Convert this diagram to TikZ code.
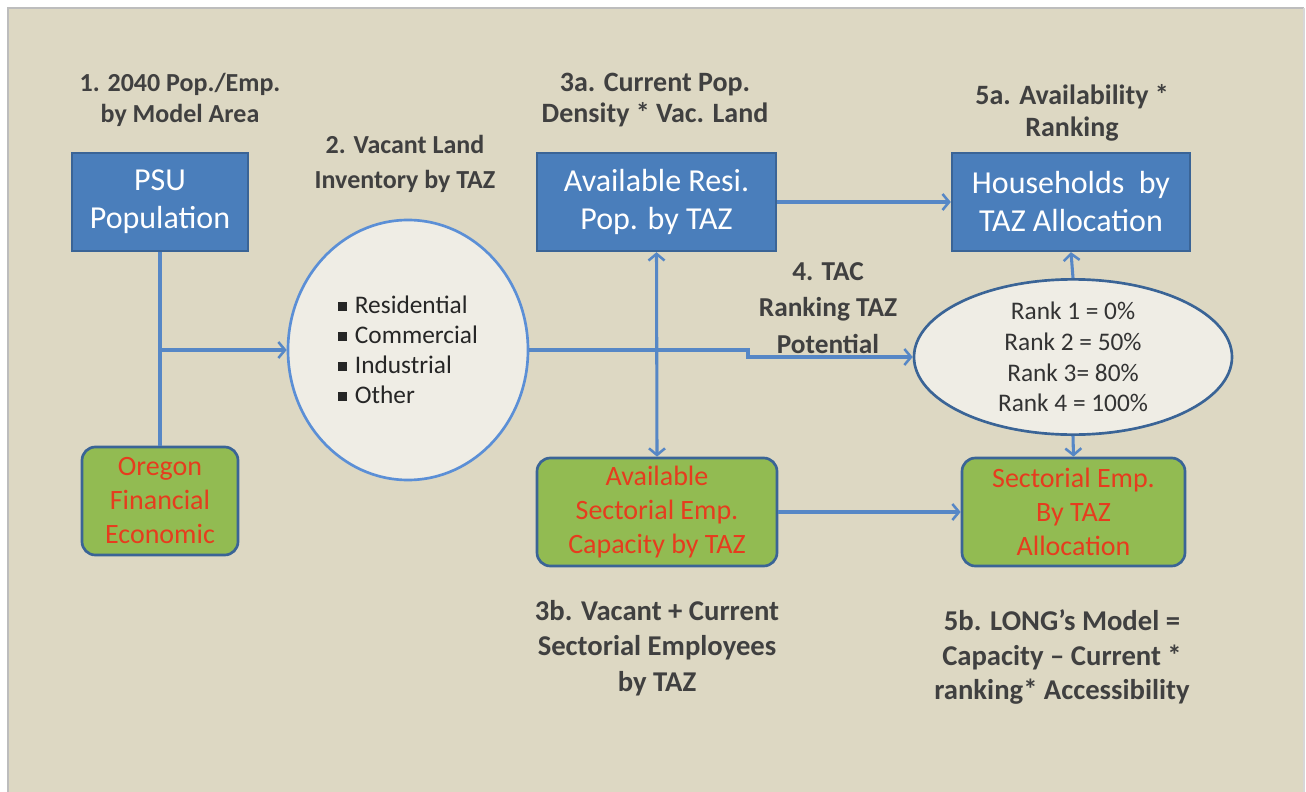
\documentclass[tikz,border=0pt]{standalone}
\usepackage{fontspec}
\setmainfont{Carlito}
\usetikzlibrary{shapes.geometric,arrows.meta}
\definecolor{bg}{HTML}{DDD8C3}
\definecolor{frame}{HTML}{BDBDBD}
\definecolor{boxblue}{HTML}{4A7EBB}
\definecolor{boxedge}{HTML}{3A6496}
\definecolor{boxgreen}{HTML}{92BB52}
\definecolor{redtxt}{HTML}{E63C1E}
\definecolor{conn}{HTML}{5687C6}
\definecolor{lbl}{HTML}{404040}
\definecolor{ellfill}{HTML}{EFEDE5}
\definecolor{elledge}{HTML}{5B8FD6}
\tikzset{
  bluebox/.style={draw=boxedge,line width=1.8pt,fill=boxblue,text=white,align=center,
    font=\fontsize{24pt}{28.5pt}\selectfont,inner sep=0pt},
  greenbox/.style={draw=boxedge,line width=2pt,fill=boxgreen,text=redtxt,align=center,
    rounded corners=10pt,font=\fontsize{21pt}{25.5pt}\selectfont,inner sep=0pt},
  steplabel/.style={text=lbl,align=center},
  conline/.style={draw=conn,line width=2.3pt},
  arr/.style={conline,-{Straight Barb[length=5pt,width=12pt,line width=1.9pt]}},
  darr/.style={conline,{Straight Barb[length=5pt,width=12pt,line width=1.9pt]}-{Straight Barb[length=5pt,width=12pt,line width=1.9pt]}},
}
\newcommand{\bul}{\raisebox{0.25ex}{\rule{0.36em}{0.36em}}\hspace{0.3em}}
\newcommand{\lf}[2]{\bfseries\fontsize{#1}{#2}\selectfont}
\begin{document}
\begin{tikzpicture}[x=0.75pt,y=-0.75pt]
\useasboundingbox (0,0) rectangle (1306,792);
\fill[white] (0,0) rectangle (1306,792);
\fill[bg] (9,9) rectangle (1303,792);
\draw[frame,line width=2pt] (8,792) -- (8,8) -- (1304,8);
\draw[frame!60,line width=1pt] (1304,8) -- (1304,792);

% step labels
\node[steplabel,font=\lf{19.5pt}{23pt}] (l1) at (180,100) {1. 2040 Pop./Emp.\\by Model Area};
\node[steplabel,font=\lf{19.5pt}{26pt}] (l2) at (405,164) {2. Vacant Land\\Inventory by TAZ};
\node[steplabel,font=\lf{21pt}{23pt}] (l3a) at (655,100) {3a. Current Pop.\\Density * Vac. Land};
\node[steplabel,font=\lf{21pt}{24.5pt}] (l5a) at (1072,113) {5a. Availability *\\Ranking};
\node[steplabel,font=\lf{20.5pt}{27.5pt}] (l4) at (828,308) {4. TAC\\Ranking TAZ\\Potential};
\node[steplabel,font=\lf{21.5pt}{26.5pt}] (l3b) at (657,648) {3b. Vacant + Current\\Sectorial Employees\\by TAZ};
\node[steplabel,font=\lf{21.5pt}{26pt}] (l5b) at (1062,657) {5b. LONG’s Model =\\Capacity – Current *\\ranking* Accessibility};

% boxes
\node[bluebox,minimum width=132pt,minimum height=73.5pt] (psu) at (160,202) {PSU\\Population};
\node[bluebox,minimum width=179.25pt,minimum height=73.5pt] (a3) at (656.5,202) {Available Resi.\\Pop. by TAZ};
\node[bluebox,minimum width=178.5pt,minimum height=73.5pt] (a5) at (1071,202) {Households\ \ by\\TAZ Allocation};
\node[greenbox,minimum width=117pt,minimum height=81pt] (oreg) at (160,501) {Oregon\\Financial\\Economic};
\node[greenbox,minimum width=180pt,minimum height=81pt] (b3) at (657,512) {Available\\Sectorial Emp.\\Capacity by TAZ};
\node[greenbox,minimum width=167.25pt,minimum height=81pt] (b5) at (1073.5,512) {Sectorial Emp.\\By TAZ\\Allocation};

% ellipses
\node[ellipse,draw=elledge,line width=2pt,fill=ellfill,minimum width=180pt,minimum height=195pt,inner sep=0pt,
  align=left,font=\fontsize{19pt}{22.5pt}\selectfont,text=black!85] (vac) at (408,350)
  {\bul Residential\\\bul Commercial\\\bul Industrial\\\bul Other};
\node[ellipse,draw=boxedge,line width=2pt,fill=ellfill,minimum width=238.5pt,minimum height=94.5pt,inner sep=0pt,
  align=center,font=\fontsize{19pt}{23pt}\selectfont,text=black!80] (rank) at (1073,357)
  {Rank 1 = 0\%\\Rank 2 = 50\%\\Rank 3= 80\%\\Rank 4 = 100\%};

% connectors
\coordinate (j) at (160,350);
\coordinate (bend) at (748,350);
\draw[conline] (psu.south) -- (oreg.north);
\draw[arr] (j) -- (vac.west);
\draw[darr] (a3.south) -- (b3.north);
\draw[arr] (a3.east) -- (a5.west);
\draw[arr] (vac.east) -- (bend) |- (rank.west);
\draw[arr] (rank.north) -- (a5.south);
\draw[arr] (rank.south) -- (b5.north);
\draw[arr] (b3.east) -- (b5.west);
\end{tikzpicture}
\end{document}
